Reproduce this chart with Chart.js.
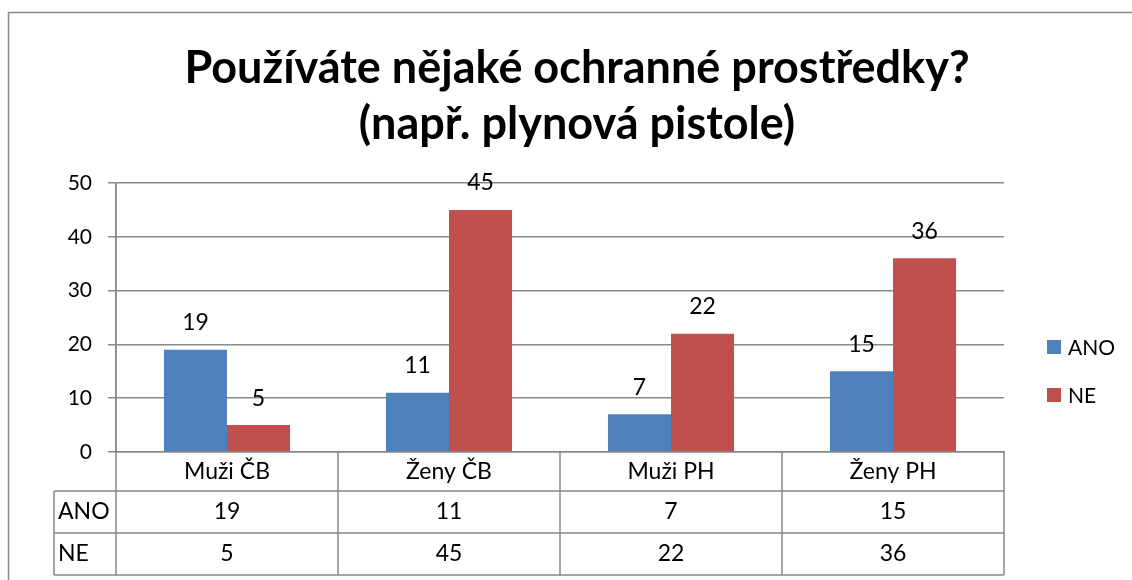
<!DOCTYPE html>
<html>
<head>
<meta charset="utf-8">
<script src="https://cdn.jsdelivr.net/npm/chart.js@4.4.1/dist/chart.umd.min.js"></script>
<style>
  html, body { margin: 0; padding: 0; background: #fff; }
  #wrap { width: 1132px; height: 580px; }
</style>
</head>
<body>
<div id="wrap"><canvas id="chart" width="1132" height="580"></canvas></div>
<script>
const titleLines = ['Používáte nějaké ochranné prostředky?', '(např. plynová pistole)'];
const categories = ['Muži ČB', 'Ženy ČB', 'Muži PH', 'Ženy PH'];
const seriesNames = ['ANO', 'NE'];
const anoValues = [19, 11, 7, 15];
const neValues = [5, 45, 22, 36];
const yTicks = [0, 10, 20, 30, 40, 50];

const FONT = 'Lato';
const GRID = '#898989';
const AXIS_SIZE = 21;
const TEXT_SIZE = 23;

// table under the x axis: header row + one row per series
const headerH = 39;
const rowH = 42;
const tableLeft = 54;

const frame = {
  id: 'frame',
  beforeDraw(chart) {
    const ctx = chart.ctx;
    ctx.save();
    ctx.strokeStyle = GRID;
    ctx.lineWidth = 1.5;
    ctx.strokeRect(8.5, 12.5, 1300, 800);
    ctx.restore();
  }
};

const barLabels = {
  id: 'barLabels',
  afterDatasetsDraw(chart) {
    const ctx = chart.ctx;
    ctx.save();
    ctx.font = TEXT_SIZE + 'px ' + FONT;
    ctx.fillStyle = '#000';
    ctx.textAlign = 'center';
    ctx.textBaseline = 'middle';
    chart.data.datasets.forEach((ds, i) => {
      chart.getDatasetMeta(i).data.forEach((bar, j) => {
        ctx.fillText(ds.data[j], bar.x, bar.y - 27);
      });
    });
    ctx.restore();
  }
};

const dataTable = {
  id: 'dataTable',
  afterDraw(chart) {
    const ctx = chart.ctx;
    const x = chart.scales.x;
    const area = chart.chartArea;
    const step = x.getPixelForValue(1) - x.getPixelForValue(0);
    const top = area.bottom;
    const bottom = top + headerH + rowH * seriesNames.length;
    ctx.save();
    ctx.strokeStyle = GRID;
    ctx.lineWidth = 1.5;
    ctx.beginPath();
    // verticals
    ctx.moveTo(area.left, area.top);
    ctx.lineTo(area.left, bottom);
    for (let i = 0; i < categories.length; i++) {
      const right = x.getPixelForValue(i) + step / 2;
      ctx.moveTo(right, top);
      ctx.lineTo(right, bottom);
    }
    ctx.moveTo(tableLeft, top + headerH);
    ctx.lineTo(tableLeft, bottom);
    // horizontals
    for (let r = 0; r <= seriesNames.length; r++) {
      const y = top + headerH + rowH * r;
      ctx.moveTo(tableLeft, y);
      ctx.lineTo(area.right, y);
    }
    ctx.stroke();

    ctx.font = TEXT_SIZE + 'px ' + FONT;
    ctx.fillStyle = '#000';
    ctx.textBaseline = 'middle';
    chart.data.datasets.forEach((ds, r) => {
      const y = top + headerH + rowH * r + rowH / 2;
      ctx.textAlign = 'left';
      ctx.fillText(ds.label, tableLeft + 4, y);
      ctx.textAlign = 'center';
      ds.data.forEach((v, i) => ctx.fillText(v, x.getPixelForValue(i), y));
    });

    // legend on the right
    ctx.font = AXIS_SIZE + 'px ' + FONT;
    const lx = 1047;
    const ly = [347, 395];
    chart.data.datasets.forEach((ds, r) => {
      ctx.fillStyle = ds.backgroundColor;
      ctx.fillRect(lx, ly[r] - 7, 14, 14);
      ctx.fillStyle = '#000';
      ctx.textAlign = 'left';
      ctx.fillText(ds.label, lx + 21, ly[r] + 1);
    });
    ctx.restore();
  }
};

new Chart(document.getElementById('chart'), {
  type: 'bar',
  data: {
    labels: categories,
    datasets: [
      { label: seriesNames[0], data: anoValues, backgroundColor: '#4F81BD' },
      { label: seriesNames[1], data: neValues, backgroundColor: '#C0504D' }
    ]
  },
  options: {
    responsive: false,
    animation: false,
    events: [],
    layout: { padding: { left: 22, right: 0, top: 14, bottom: 5 } },
    datasets: { bar: { categoryPercentage: 0.568, barPercentage: 1 } },
    plugins: {
      legend: { display: false },
      tooltip: { enabled: false },
      title: {
        display: true,
        text: titleLines,
        color: '#000',
        font: { family: FONT, size: 45, weight: 'bold', lineHeight: 56 / 45 },
        padding: { top: 26, bottom: 31 }
      }
    },
    scales: {
      x: {
        grid: { display: false, drawTicks: false },
        border: { color: GRID, width: 1.5 },
        ticks: { color: '#000', font: { family: FONT, size: TEXT_SIZE }, padding: 6 },
        afterFit(scale) { scale.height = headerH + rowH * seriesNames.length; }
      },
      y: {
        min: 0,
        max: 50,
        afterBuildTicks(scale) { scale.ticks = yTicks.map(v => ({ value: v })); },
        grid: { color: GRID, lineWidth: 1.5, tickLength: 8 },
        border: { color: GRID, width: 1.5 },
        ticks: { color: '#000', font: { family: FONT, size: AXIS_SIZE }, padding: 16 },
        afterFit(scale) { scale.width = 94; }
      },
      // empty right-hand strip that holds the legend
      legendSpace: {
        type: 'linear',
        position: 'right',
        display: true,
        grid: { display: false },
        border: { display: false },
        ticks: { display: false },
        afterFit(scale) { scale.width = 128; }
      }
    }
  },
  plugins: [frame, barLabels, dataTable]
});
</script>
</body>
</html>
